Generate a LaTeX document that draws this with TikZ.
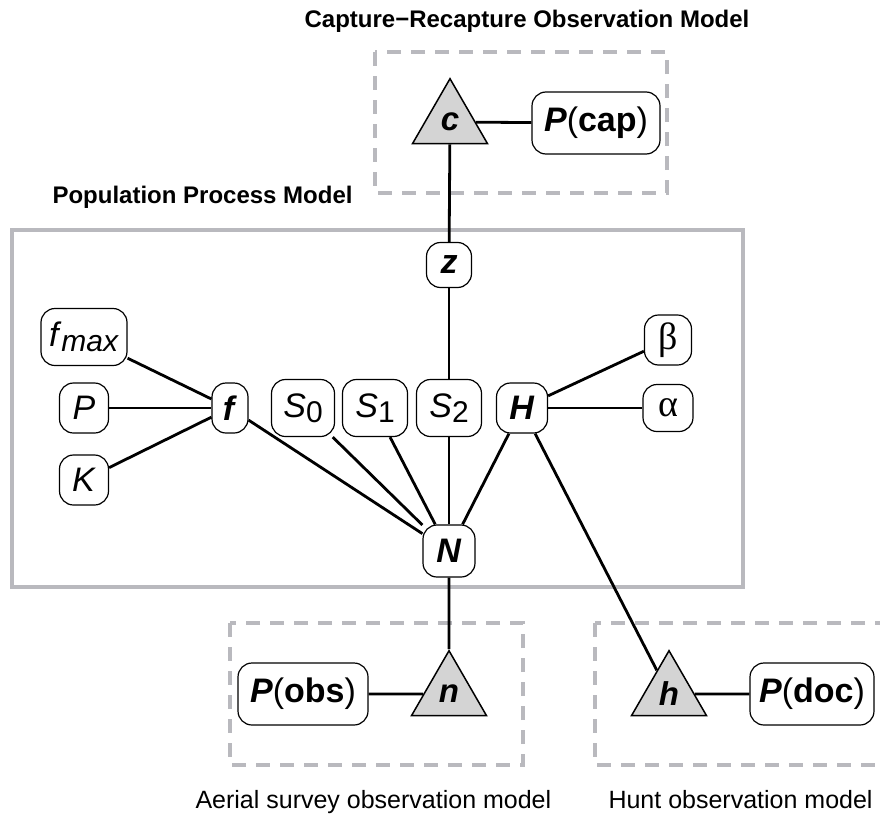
\documentclass[tikz,border=0pt]{standalone}
\usepackage{fontspec}
\setmainfont{Liberation Sans}
\newfontfamily\grk{Liberation Serif}
\usetikzlibrary{shapes.geometric}
\definecolor{boxgray}{RGB}{185,185,190}
\definecolor{trifill}{RGB}{212,212,212}
\tikzset{
  var/.style={draw,rounded corners=14pt,line width=1.2pt,fill=white,
    inner sep=0pt,font=\fontsize{34}{40}\selectfont},
  obs/.style={draw,regular polygon,regular polygon sides=3,
    minimum size=86.6pt,inner sep=0pt,line width=1.5pt,fill=trifill,
    font=\fontsize{33}{38}\selectfont\bfseries\itshape},
  link/.style={line width=2.8pt},
  modbox/.style={draw=boxgray,line width=3.5pt},
  subbox/.style={draw=boxgray,line width=3.5pt,dash pattern=on 14pt off 10pt},
  lab/.style={font=\fontsize{25}{30}\selectfont},
  blab/.style={font=\fontsize{24}{29}\selectfont\bfseries}
}
\newcommand*{\sbs}[1]{\raisebox{-5pt}{\fontsize{30}{32}\selectfont #1}}
\newcommand*{\bi}[1]{\textbf{\textit{#1}}}

\begin{document}
\begin{tikzpicture}[x=1pt,y=-1pt]
\useasboundingbox (0,0) rectangle (880,816);
\clip (0,0) rectangle (880,816);

% Model boxes
\draw[subbox] (375,52) rectangle (667,193);
\draw[modbox] (12,230) rectangle (743,587);
\draw[subbox] (230,623) rectangle (523,765);
\draw[subbox] (595,623) rectangle (888,765);

\node[blab,anchor=base] (TCR) at (527,28) {Capture\textminus Recapture Observation Model};
\node[blab,anchor=base west] (TPP) at (49,203) {Population Process Model};
\node[lab,anchor=base west] (TAS) at (192,808) {Aerial survey observation model};
\node[lab,anchor=base west] (THO) at (605,808) {Hunt observation model};

% Process nodes
\node[var,minimum width=86pt,minimum height=57pt] (Fmax) at (84,337)
  {\textit{f}\sbs{\textit{max}}};
\node[var,minimum width=49pt,minimum height=50pt] (Pp) at (84,408) {\textit{P}};
\node[var,minimum width=49pt,minimum height=50pt] (K) at (84,480) {\textit{K}};
\node[var,minimum width=36pt,minimum height=50pt] (F) at (230,408) {\bi{f}};
\node[var,minimum width=63pt,minimum height=57pt] (S0) at (303,408)
  {\textit{S}\sbs{0}};
\node[var,minimum width=65pt,minimum height=57pt] (S1) at (375,408)
  {\textit{S}\sbs{1}};
\node[var,minimum width=65pt,minimum height=57pt] (S2) at (449,408)
  {\textit{S}\sbs{2}};
\node[var,minimum width=51pt,minimum height=50pt] (H) at (522,408) {\bi{H}};
\node[var,minimum width=47pt,minimum height=50pt] (B) at (668,340)
  {\fontsize{38}{40}\selectfont\grk β};
\node[var,minimum width=50pt,minimum height=47pt] (A) at (668,408)
  {\fontsize{38}{40}\selectfont\grk α};
\node[var,minimum width=45pt,minimum height=45pt] (Z) at (449,265) {\bi{z}};
\node[var,minimum width=52pt,minimum height=52pt] (N) at (449,551) {\bi{N}};

% Observation nodes
\node[obs] (C) at (450,122) {c};
\node[var,minimum width=128pt,minimum height=62pt] (Pcap) at (596,123)
  {\bi{P}(\textbf{cap})};
\node[obs] (Nn) at (449,694) {n};
\node[var,minimum width=130pt,minimum height=62pt] (Pobs) at (303,694)
  {\bi{P}(\textbf{obs})};
\node[obs] (Hh) at (669,694) {h};
\node[var,minimum width=124pt,minimum height=62pt] (Pdoc) at (812,694)
  {\bi{P}(\textbf{doc})};

\draw[link] (Fmax) -- (F);
\draw[link] (Pp) -- (F);
\draw[link] (K) -- (F);
\draw[link] (F) -- (N);
\draw[link] (S0) -- (N);
\draw[link] (S1) -- (N);
\draw[link] (S2) -- (N);
\draw[link] (H) -- (N);
\draw[link] (Z) -- (S2);
\draw[link] (Z) -- (C);
\draw[link] (C) -- (Pcap);
\draw[link] (H) -- (B);
\draw[link] (H) -- (A);
\draw[link] (H) -- (Hh);
\draw[link] (N) -- (Nn);
\draw[link] (Pobs) -- (Nn);
\draw[link] (Hh) -- (Pdoc);

\end{tikzpicture}
\end{document}
